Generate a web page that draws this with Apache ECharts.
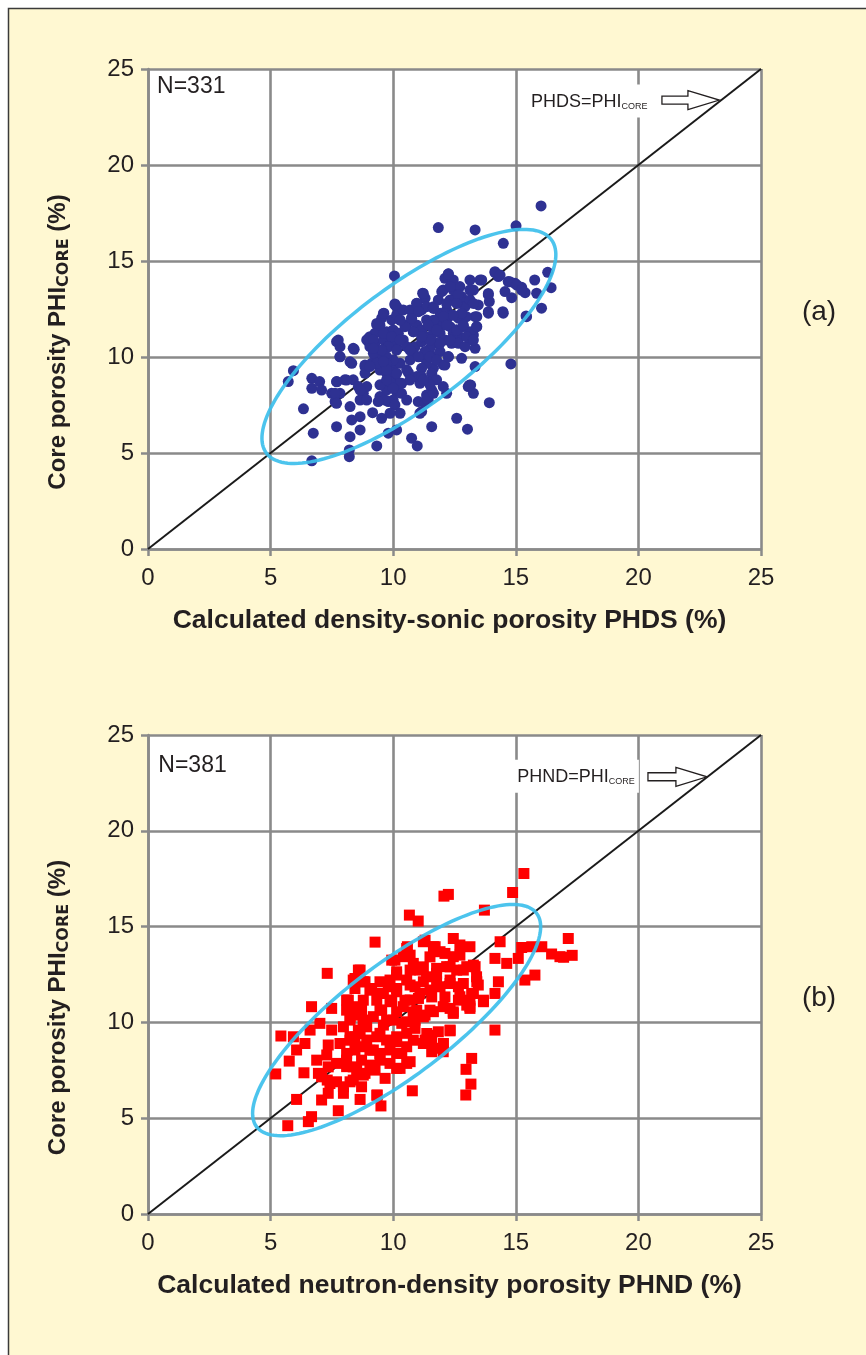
<!DOCTYPE html>
<html><head><meta charset="utf-8">
<script src="https://cdn.jsdelivr.net/npm/echarts@6/dist/echarts.min.js"></script>
<style>html,body{margin:0;padding:0;background:#fff;} #c{width:866px;height:1355px;}</style>
</head><body><div id="c"></div>
<script>
// ---------- DATA ----------
const axisMin = 0, axisMax = 25, axisStep = 5;
const identityLine = [[0, 0], [25, 25]];
const labelA = 'N=331', labelB = 'N=381';
const xTitleA = 'Calculated density-sonic porosity PHDS (%)';
const xTitleB = 'Calculated neutron-density porosity PHND (%)';
const annotA = 'PHDS=PHI', annotB = 'PHND=PHI', subscript = 'CORE';

// (a) PHDS vs PHI_CORE
const pointsA = [
[16.03,17.87],[11.84,16.74],[13.34,16.62],[15.01,16.83],[14.49,15.92],[10.05,14.22],[16.3,14.41],[16.44,13.61],[15.77,14.01],[16.05,12.54],
[15.42,12.14],[14.15,14.4],[14.29,14.19],[14.69,13.93],[14.97,13.84],[15.24,13.63],[15.38,13.35],[15.85,13.32],[14.56,13.41],[14.83,13.09],
[13.88,13.23],[13.92,12.89],[13.88,12.28],[14.49,12.28],[13.13,14.01],[13.54,14.01],[13.27,13.49],[13.47,12.71],[13.34,12.1],[13.4,11.58],
[13.27,11.15],[13.34,10.45],[13.13,10.89],[12.25,14.33],[12.11,14.1],[12.45,14.01],[12.04,13.49],[12.59,13.32],[12.32,12.97],[12.72,12.8],
[11.2,13.32],[11.3,13.06],[10.96,12.8],[11.16,12.45],[10.07,12.76],[10.14,12.62],[9.62,12.28],[9.53,12.02],[9.33,11.67],[9.39,11.32],
[9.05,11.06],[8.99,10.8],[9.26,10.71],[9.6,10.89],[9.73,11.32],[10.0,11.41],[10.28,11.93],[10.55,11.67],[10.75,12.02],[10.82,11.32],
[10.41,10.89],[10.14,10.54],[9.8,10.54],[9.6,10.37],[10.55,10.54],[10.89,10.54],[11.16,10.8],[11.36,11.06],[11.57,11.58],[11.77,11.93],
[11.91,12.28],[12.18,12.45],[12.38,12.19],[12.66,12.02],[12.99,12.1],[12.86,11.58],[12.59,11.41],[12.32,11.58],[12.04,11.67],[11.91,11.24],
[12.11,10.89],[12.38,10.71],[11.77,10.71],[11.5,10.45],[11.16,10.02],[11.64,10.02],[12.25,10.02],[12.04,9.59],[11.64,9.41],[11.57,9.15],
[11.43,8.72],[11.57,8.28],[11.36,8.02],[11.09,8.63],[10.96,8.98],[11.02,7.68],[11.16,7.16],[10.62,9.19],[10.35,8.63],[10.14,8.2],
[10.0,7.76],[9.8,7.68],[10.07,7.5],[10.28,7.07],[9.94,8.81],[9.73,9.15],[9.94,9.41],[9.46,9.32],[9.53,8.54],[9.46,7.94],
[9.67,7.76],[9.16,7.1],[9.53,6.81],[9.8,6.03],[10.14,6.2],[9.33,5.37],[10.75,5.77],[10.98,5.37],[11.57,6.37],[11.09,7.07],
[12.18,8.11],[12.59,6.81],[13.03,6.24],[13.16,8.54],[13.27,8.11],[13.06,8.46],[13.92,7.62],[14.8,9.64],[13.34,9.5],
[5.93,9.29],[5.72,8.72],[6.34,7.3],[6.68,8.89],[6.68,8.37],[7.0,8.72],[7.08,8.28],[6.74,6.03],[6.68,4.59],[7.69,10.8],
[7.83,10.54],[7.83,10.02],[8.41,10.4],[8.31,9.67],[7.69,8.72],[8.03,8.81],[8.37,8.81],[7.49,8.11],[7.83,8.11],[7.63,7.68],
[7.69,6.37],[8.24,7.42],[8.31,6.72],[8.65,6.89],[8.65,6.2],[8.24,5.85],[8.21,5.16],[8.21,4.81],[8.58,8.46],[8.78,8.11],
[8.65,7.76],[8.92,7.76],[8.85,9.5],[8.85,9.15],[9.12,9.67],[9.39,10.02],[9.19,10.19],[8.92,10.89],[9.05,10.54],[9.26,11.24],
[9.94,11.93],[10.14,12.19],[10.41,12.45],[10.69,12.45],[11.36,12.62],[11.64,12.62],[11.84,12.97],[12.45,13.49],[12.79,13.15],[12.93,12.62],
[13.13,12.97],[12.72,13.67],[12.32,13.67],[13.13,11.32],[12.72,11.06],[12.66,10.71],[12.93,10.54],[11.91,10.28],[11.29,10.28],[10.82,10.19],
[10.69,9.85],[11.36,9.67],[11.16,9.41],[10.28,9.67],[10.0,9.85],[9.73,10.02],[10.0,10.89],[10.21,11.24],[10.96,11.67],[11.16,11.41],
[11.36,11.93],[12.18,11.93],[12.45,11.24],[11.64,11.24],[10.0,9.15],[10.14,8.72],[10.34,8.11],[10.55,7.76],[9.73,8.28],[9.87,7.07],
[11.3,7.59],[11.43,7.76],[11.77,8.81],[12.04,8.46],
[12.25,14.32],[11.98,13.4],[12.66,13.23],[13.61,14.01],[13.13,13.49],[13.88,13.31],[14.15,14.44],[14.36,14.27],[14.76,13.92],[15.04,13.75],
[15.24,13.49],[15.44,12.1],[14.47,12.36],[13.88,12.36],[13.27,12.79],[13.41,12.1],[13.41,11.58],[13.0,11.06],[13.27,10.88],[11.23,13.31],
[10.96,12.79],[11.03,12.36],[11.64,12.53],[12.18,12.79],[12.59,12.79],[12.79,12.27],[12.45,12.18],[12.05,12.1],[11.64,11.92],[11.43,11.66],
[11.77,11.4],[12.18,11.66],[12.59,11.4],[12.86,11.66],[12.32,10.88],[11.91,10.71],[11.5,10.88],[11.16,11.06],[10.82,11.32],[10.48,11.58],
[10.28,11.92],[10.75,12.01],[10.07,12.71],[9.6,12.27],[9.46,11.66],[9.33,11.75],[8.99,10.97],[9.19,10.88],[9.6,11.23],[9.94,11.06],
[10.28,10.88],[9.8,10.54],[10.14,10.36],[9.53,10.36],[9.19,10.45],[8.85,9.58],[9.33,9.67],[9.73,9.67],[10.68,10.36],[11.03,10.01],
[11.5,10.01],[11.77,9.84],[12.11,9.58],[12.25,10.01],[12.79,9.93],[11.16,8.97],[10.68,8.8],[10.28,8.62],[9.87,8.71],[8.37,10.45],
[7.76,10.88],[7.83,10.01],[8.24,9.75],[7.7,8.71],[8.1,8.8],[13.11,8.54],
[9.05,9.5],[8.92,8.46],[8.65,8.28],[7.63,8.11],[7.69,7.59],[9.46,8.55],[9.39,7.68],[11.37,7.85],[11.64,8.11],[11.5,8.55],
[11.23,8.81],[10.55,9.33],[10.14,9.15],[10.0,8.37],[9.73,8.81],[9.73,9.33],[9.6,9.76]
];

// (b) PHND vs PHI_CORE
const pointsB = [
[15.33,17.77],[14.87,16.78],[12.07,16.59],[12.25,16.68],[10.66,15.6],[11.02,15.29],[13.72,15.86],[9.26,14.19],[7.31,12.56],[17.14,14.38],
[16.8,13.43],[16.46,13.57],[16.06,13.95],[15.65,13.95],[15.24,13.91],[15.1,13.34],[14.63,13.08],[15.78,12.47],[15.37,12.21],[14.36,14.21],
[14.15,13.34],[14.29,12.12],[14.15,11.51],[13.68,11.08],[14.15,9.6],[13.2,8.12],[12.97,7.55],[13.17,6.78],[12.96,6.21],[10.78,6.43],
[9.5,5.64],[7.76,5.39],[6.67,5.08],[6.54,4.82],[5.7,4.61],[6.06,5.98],[7.08,5.95],[8.65,5.98],[9.35,6.21],[7.35,6.3],
[5.21,7.31],[5.76,7.98],[6.36,7.37],[6.88,8.03],[6.95,7.34],[7.31,6.99],[7.69,6.9],[8.24,6.9],[8.71,6.64],[7.97,6.3],
[9.67,7.08],[8.85,7.34],[8.51,7.51],[8.1,7.69],[7.69,7.86],[7.29,8.3],[7.35,8.82],[6.4,8.9],[5.93,9.25],[5.42,9.29],
[6.06,8.56],[6.61,9.6],[7.49,9.6],[6.67,10.82],[7.01,9.95],[7.49,10.73],[8.1,11.17],[8.44,10.82],[8.24,10.3],[8.65,10.38],
[8.44,11.77],[8.65,12.73],[8.85,12.12],[8.37,12.21],[8.24,9.25],[8.58,9.6],[8.92,9.08],[9.19,8.56],[9.46,8.03],[9.87,7.86],
[10.28,7.6],[10.69,7.95],[10.35,8.38],[9.87,8.56],[9.46,9.43],[9.73,9.08],[10.14,8.99],[10.55,9.43],[10.89,9.69],[11.3,9.08],
[11.64,8.65],[12.04,8.47],[11.84,9.51],[12.32,9.56],[9.19,10.3],[9.53,10.64],[9.87,11.17],[9.46,11.51],[9.12,11.77],[9.8,11.86],
[10.14,11.6],[10.14,12.47],[9.94,13.25],[10.41,13.43],[10.55,13.86],[10.82,13.08],[11.23,14.21],[11.64,13.95],[11.91,13.69],[12.45,14.38],
[12.72,14.04],[13.13,13.95],[12.45,13.43],[12.18,12.91],[12.59,12.73],[13.0,12.91],[13.34,12.91],[13.4,12.38],[13.47,11.95],[13.2,11.51],
[13.13,10.82],[12.72,11.34],[12.45,10.47],[12.04,10.82],[11.64,10.56],[11.3,10.38],[10.96,10.64],[10.69,11.17],[11.09,11.51],[11.5,11.69],
[11.91,11.86],[12.32,12.03],[12.66,11.86],[11.36,12.38],[11.77,12.56],[11.09,12.73],[10.55,12.21],[10.89,11.86],[10.41,10.82],[10.0,10.12],
[10.82,10.3],[8.92,9.77],[7.97,9.77],[7.83,8.9],[8.1,8.38],[8.71,8.03],[9.05,7.77],[8.44,8.56],[17.3,13.5],[16.95,13.4],
[10.58,13.95],[11.3,14.29],[11.71,13.95],[10.07,13.25],[10.69,13.51],[11.5,13.42],[12.11,13.6],[12.72,13.51],[13.27,12.99],[12.86,12.73],
[12.32,12.9],[11.77,12.82],[11.23,12.9],[10.69,12.73],[10.14,12.64],[9.87,12.21],[9.46,12.12],[8.78,12.12],[8.44,12.29],[8.58,12.73],
[9.05,11.68],[9.6,11.51],[10.14,11.77],[10.69,11.95],[11.23,12.12],[11.77,12.12],[12.32,12.21],[12.86,12.03],[13.41,12.12],[13.27,11.51],
[13.13,11.16],[12.66,11.16],[12.11,11.33],[11.57,11.33],[11.03,11.25],[10.48,11.16],[9.94,11.08],[9.33,11.16],[8.78,11.16],[8.17,11.16],
[8.1,10.64],[8.71,10.64],[9.46,10.64],[10.14,10.55],[10.82,10.55],[11.5,10.64],[12.45,10.55],[13.13,10.73],[13.68,11.16],[10.89,10.12],
[10.35,9.95],[9.6,9.86],[8.78,9.95],[8.24,10.12],[8.44,9.25],[9.33,9.25],[10.14,9.25],[11.37,9.42],[11.57,9.08],[12.32,9.6],
[12.05,8.9],[7.35,7.68],[7.08,7.16],[7.42,6.81],[7.97,6.64],[8.37,6.99],[8.78,7.25],[9.26,7.51],[9.33,6.2],[10.14,7.6],
[10.55,7.86],[11.23,8.9],[11.5,9.33],[11.57,8.47],[8.24,9.07],[8.65,8.73],[9.05,8.55],[9.46,8.38],[10.14,8.38],[10.55,8.73],
[10.82,9.07],[8.65,9.42],[8.1,8.03],[8.37,7.68],[8.78,10.12],[9.73,10.12],[10.55,10.03],[11.23,10.29],[12.32,10.73],[13.0,10.9]
];

// ellipses: centre, half major-axis vector (u), half minor-axis vector (v), in data units
const ellipseA = {cx: 10.64, cy: 10.55, ux: 5.81, uy: 5.56, vx: 1.47, vy: -2.5};
const ellipseB = {cx: 10.14, cy: 10.12, ux: 5.71, uy: 5.57, vx: 1.38, vy: -2.32};

// annotation anchors (data units)
const noteA = {nx: 0.37, ny: 24.06, tx: 15.46, ty: 23.33, a0: 20.96, a1: 22.02, a2: 23.3, ay: 23.38};
const noteB = {nx: 0.42, ny: 23.42, tx: 14.9, ty: 22.85, a0: 20.39, a1: 21.53, a2: 22.8, ay: 22.82};

// ---------- CHART ----------
const FONT = '"Liberation Sans", Arial, Helvetica, sans-serif';
const INK = '#231f20';
const GRIDC = '#8a8a8a';
const chart = echarts.init(document.getElementById('c'), null, {renderer: 'canvas'});

function xAxisCfg(gi, title) {
  return {
    gridIndex: gi, type: 'value', min: axisMin, max: axisMax, interval: axisStep, z: 1,
    axisLine: {onZero: false, lineStyle: {color: GRIDC, width: 2.5}},
    axisTick: {length: 7, lineStyle: {color: GRIDC, width: 2.5}},
    splitLine: {show: true, showMinLine: true, showMaxLine: true, lineStyle: {color: GRIDC, width: 2.6}},
    axisLabel: {color: INK, fontSize: 24, fontFamily: FONT, margin: 17},
    name: title, nameLocation: 'middle', nameGap: 58,
    nameTextStyle: {color: INK, fontSize: 26.5, fontWeight: 'bold', fontFamily: FONT, padding: [0, 10, 0, 0]}
  };
}
function yAxisCfg(gi) {
  return {
    gridIndex: gi, type: 'value', min: axisMin, max: axisMax, interval: axisStep, z: 1,
    axisLine: {onZero: false, lineStyle: {color: GRIDC, width: 2.5}},
    axisTick: {length: 7, lineStyle: {color: GRIDC, width: 2.5}},
    splitLine: {show: true, showMinLine: true, showMaxLine: true, lineStyle: {color: GRIDC, width: 2.6}},
    axisLabel: {color: INK, fontSize: 24, fontFamily: FONT, margin: 14},
    name: '{b|Core porosity PHI}{s|' + subscript + '}{b| (%)}',
    nameLocation: 'middle', nameGap: 78,
    nameTextStyle: {
      padding: [0, 66, 0, 0],
      rich: {
        b: {color: INK, fontSize: 24, fontWeight: 'bold', fontFamily: FONT},
        s: {color: INK, fontSize: 16, fontWeight: 'bold', fontFamily: '"DejaVu Sans", ' + FONT, verticalAlign: 'bottom', padding: [0, 0, -2, 0]}
      }
    }
  };
}
function ellipseSeries(el, idx) {
  return {
    type: 'custom', xAxisIndex: idx, yAxisIndex: idx, coordinateSystem: 'cartesian2d',
    silent: true, z: 5, clip: false, data: [[el.cx, el.cy]],
    renderItem: function (params, api) {
      const pts = [];
      const n = 160;
      for (let i = 0; i < n; i++) {
        const t = i / n * Math.PI * 2;
        pts.push(api.coord([el.cx + el.ux * Math.cos(t) + el.vx * Math.sin(t),
                            el.cy + el.uy * Math.cos(t) + el.vy * Math.sin(t)]));
      }
      return {type: 'polygon', shape: {points: pts},
              style: {fill: 'none', stroke: '#3dbfec', lineWidth: 3.5, opacity: 0.92}};
    }
  };
}

chart.setOption({
  backgroundColor: '#ffffff',
  animation: false,
  grid: [
    {left: 148, top: 69, width: 613, height: 480, show: true, backgroundColor: '#ffffff', borderWidth: 0, z: 0},
    {left: 148, top: 735, width: 613, height: 479, show: true, backgroundColor: '#ffffff', borderWidth: 0, z: 0}
  ],
  xAxis: [xAxisCfg(0, xTitleA), xAxisCfg(1, xTitleB)],
  yAxis: [yAxisCfg(0), yAxisCfg(1)],
  series: [
    {type: 'line', xAxisIndex: 0, yAxisIndex: 0, data: identityLine, symbol: 'none', silent: true, z: 2,
     lineStyle: {color: '#1a1a1a', width: 2}},
    {type: 'line', xAxisIndex: 1, yAxisIndex: 1, data: identityLine, symbol: 'none', silent: true, z: 2,
     lineStyle: {color: '#1a1a1a', width: 2}},
    {type: 'scatter', xAxisIndex: 0, yAxisIndex: 0, data: pointsA, symbol: 'circle', symbolSize: 11, z: 3,
     itemStyle: {color: '#2e3192', opacity: 1}},
    {type: 'scatter', xAxisIndex: 1, yAxisIndex: 1, data: pointsB, symbol: 'rect', symbolSize: 11, z: 3,
     itemStyle: {color: '#ff0000', opacity: 1}},
    ellipseSeries(ellipseA, 0),
    ellipseSeries(ellipseB, 1)
  ]
});

function px(gi, p) { return chart.convertToPixel({gridIndex: gi}, p); }
function notes(gi, note, nLabel, annot) {
  const n = px(gi, [note.nx, note.ny]);
  const t = px(gi, [note.tx, note.ty]);
  const p0 = px(gi, [note.a0, note.ay]);
  const p1 = px(gi, [note.a1, note.ay]);
  const p2 = px(gi, [note.a2, note.ay]);
  const y = p0[1], sh = 4, hh = 9.5;
  return [
    {type: 'text', x: n[0], y: n[1], z: 20,
     style: {text: nLabel, font: '23px ' + FONT, fill: INK, align: 'left', verticalAlign: 'middle'}},
    {type: 'text', x: t[0], y: t[1], z: 20,
     style: {text: '{m|' + annot + '}{s|' + subscript + '}', align: 'left', verticalAlign: 'middle',
             backgroundColor: '#ffffff', padding: [8, 4, 7, 4],
             rich: {m: {font: '18px ' + FONT, fill: INK}, s: {font: '9px ' + FONT, fill: INK, verticalAlign: 'bottom'}}}},
    {type: 'polygon', z: 20,
     shape: {points: [[p0[0], y - sh], [p1[0], y - sh], [p1[0], y - hh], [p2[0], y], [p1[0], y + hh], [p1[0], y + sh], [p0[0], y + sh]]},
     style: {fill: '#ffffff', stroke: INK, lineWidth: 1.3}}
  ];
}

chart.setOption({
  graphic: [
    {type: 'rect', z: -100, silent: true, shape: {x: 8.5, y: 8.5, width: 1000, height: 2000},
     style: {fill: '#fff8d2', stroke: '#3a3a3a', lineWidth: 1.5}},
    {type: 'text', x: 819, y: 312, z: 20, style: {text: '(a)', font: '28px ' + FONT, fill: INK, align: 'center', verticalAlign: 'middle'}},
    {type: 'text', x: 819, y: 998, z: 20, style: {text: '(b)', font: '28px ' + FONT, fill: INK, align: 'center', verticalAlign: 'middle'}}
  ].concat(notes(0, noteA, labelA, annotA), notes(1, noteB, labelB, annotB))
});
</script>
</body></html>
